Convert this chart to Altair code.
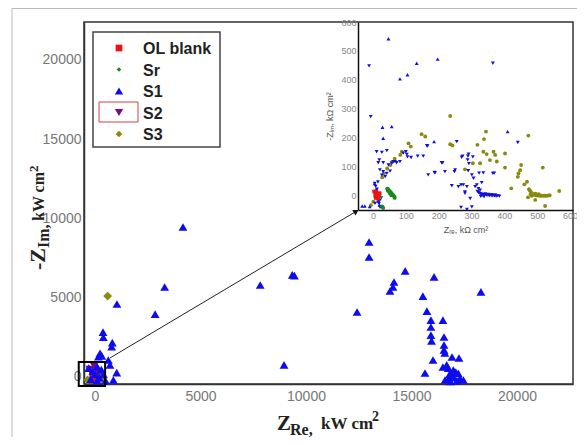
import altair as alt
import pandas as pd

# ---------------- data ----------------
series = ["OL blank", "Sr", "S1", "S2", "S3"]

# main plot (kW cm2)
main_s1 = [(4170, 9430), (3300, 5630), (2850, 3920), (1040, 4560), (7830, 5760), (9350, 6400),
           (9450, 6350), (8960, 700), (12990, 8480), (12990, 7530), (14700, 6650), (16070, 6270),
           (14170, 5950), (14120, 5630), (13980, 5380), (18290, 5320), (12420, 4050), (15540, 5060),
           (15730, 4110), (15920, 3540), (16490, 3540), (15920, 3100), (15920, 2590), (15950, 2220),
           (16540, 2470), (16540, 1960), (16540, 1650), (16580, 1460), (16020, 1010), (16920, 1200),
           (17250, 1140), (15640, 190), (16490, 570), (16670, 700), (16740, 490), (16980, 380),
           (17220, 170), (16900, 60), (17300, -150), (16740, -210), (17460, -250), (16590, -250),
           (16800, 100), (17000, -100), (17100, 250), (16850, -350), (17150, -300),
           (380, 2780), (395, 2450), (820, 2110), (790, 1850), (240, 1440), (160, 1220), (320, 1270),
           (630, 1010), (710, 700), (1030, 210), (870, -250), (-300, 500), (-100, 300), (100, 600),
           (300, 400), (0, 100), (200, -100), (-200, -200), (400, 100), (100, -300), (500, -300)]
main_ol = [(20, -80), (-60, 60)]
main_sr = [(250, 0)]
main_s2 = [(-250, 400), (150, 250), (-50, 650)]
main_s3 = [(600, 5060), (300, -200), (-350, -250)]

# inset (kOhm cm2)
ins_ol = [(8, 10), (10, 5), (12, 0), (14, -5), (9, -10), (15, -12), (11, 8), (7, -3), (16, 3), (4, 12), (20, 6)]
ins_sr = [(43, 22), (46, 20), (48, 17), (50, 14), (53, 11), (55, 8), (57, 5), (59, 2), (61, 0), (63, -3),
          (65, -6), (66, -10), (45, 15), (49, 10), (52, 4), (56, -1), (31, -45), (28, -40), (21, -6)]
ins_s1 = [(47, 542), (133, 457), (197, 471), (105, 417), (82, 403), (57, 237), (29, 235), (31, 197),
          (186, 185), (410, 220), (-33, -38), (-25, -38), (-10, -40), (5, 40), (10, 20), (15, -20),
          (20, -35), (25, -40)]
ins_s2 = [(-12, 448), (-7, 272), (365, 457), (441, 182), (255, 185), (164, 171), (136, 135), (153, 135),
          (105, 132), (100, 150), (209, 112), (248, 81), (187, 78), (168, 70), (219, 81), (273, 135),
          (289, 135), (268, 35), (275, 35), (240, 32), (290, 84), (292, 109), (304, 132), (311, 29),
          (280, 6), (301, 70), (323, 76), (331, 43), (369, 76), (321, 22), (296, -12), (268, -43),
          (286, -50), (301, -41), (316, 35), (326, 17), (336, 77), (365, 75), (286, 29), (280, 11),
          (306, 58), (270, 131), (291, 142), (288, 122), (260, 29), (212, 112), (250, 87), (189, 77),
          (166, 170), (116, 130), (92, 145), (103, 141),
          (11, 150), (27, 148), (42, 154), (19, 122), (31, 112), (62, 116), (72, 112), (82, 116),
          (21, 87), (31, 81), (42, 75), (52, 83), (27, 69), (37, 64), (47, 104), (57, 110), (67, 116),
          (16, 112), (5, 40), (8, 30), (12, 20), (3, 10), (15, 45), (20, -20), (18, -30), (6, -29),
          (21, -41), (25, -10),
          (318, 12), (322, 8), (326, 5), (330, 3), (335, 2), (340, 1), (345, 0), (350, -1), (355, -2),
          (360, -2), (365, -3), (370, -3), (375, -4), (380, -3), (385, -4), (332, -2), (342, 4),
          (352, 2), (362, 1), (372, 0), (328, -5), (338, -6)]
ins_s3 = [(235, 274), (148, 211), (159, 203), (108, 179), (115, 168), (88, 150), (83, 139), (66, 126),
          (58, 115), (53, 104), (43, 92), (33, 75), (28, 61), (242, 172), (235, 176), (304, 110),
          (326, 110), (280, 89), (318, 174), (338, 194), (344, 220), (336, 150), (346, 142), (367, 150),
          (372, 139), (377, 116), (402, 144), (402, 95), (356, 121), (473, 206), (451, 104), (448, 86),
          (443, 75), (441, 63), (469, 46), (461, 37), (421, 23), (517, 95), (567, 14), (494, -17),
          (524, -38), (-6, -35), (1, -23),
          (475, 20), (478, 15), (481, 10), (484, 6), (487, 3), (490, 1), (494, 0), (498, -1), (502, -2),
          (506, -2), (510, -3), (514, -2), (518, -3), (522, -2), (526, -3), (530, -2), (534, -2),
          (538, -1), (483, -3), (480, 3), (472, -8), (495, 5), (505, 3)]

main_ticks = [0, 5000, 10000, 15000, 20000]
inset_ticks = [0, 100, 200, 300, 400, 500, 600]
zoom_box = {"x": -770, "x2": 480, "y": -640, "y2": 880}
arrow = {"x": 720, "y": 1150, "x2": 12380, "y2": 10420}

legend_labels = ["OL blank", "Sr", "S1", "S2", "S3"]
legend_colors = ["#ee1111", "#1a8a1a", "#1010ee", "#7a0a8a", "#8a8a10"]
legend_shapes = ["square", "diamond", "triangle-up", "triangle-down", "diamond"]
legend_sizes = [45, 22, 70, 70, 45]

main_colors = ["#ee1111", "#1a8a1a", "#0c0cee", "#7a0a8a", "#8a8a10"]
main_shapes = ["square", "diamond", "triangle-up", "triangle-down", "diamond"]
inset_colors = ["#ee1111", "#1a8a1a", "#1010dd", "#1010dd", "#8a8a10"]
inset_shapes = ["square", "circle", "triangle-up", "triangle-down", "circle"]


def frame(groups):
    rows = []
    for name, pts in groups:
        for x, y in pts:
            rows.append({"x": x, "y": y, "s": name})
    return pd.DataFrame(rows)


main_df = frame([("OL blank", main_ol), ("Sr", main_sr), ("S2", main_s2), ("S3", main_s3), ("S1", main_s1)])
inset_df = frame([("S3", ins_s3), ("S2", ins_s2), ("S1", ins_s1), ("Sr", ins_sr), ("OL blank", ins_ol)])
one = pd.DataFrame({"k": [0]})

W, H = 489, 362
SANS = "Liberation Sans"
SERIF = "Liberation Serif"

# ---------------- main panel ----------------
mx = alt.X("x:Q", scale=alt.Scale(domain=[-521, 22654], nice=False, zero=False),
           axis=alt.Axis(values=main_ticks, format="d", title=None, ticks=False, grid=False,
                         labelFont=SANS, labelFontSize=14, labelColor="#777", labelPadding=5,
                         domainColor="#333", domainWidth=1.5))
my = alt.Y("y:Q", scale=alt.Scale(domain=[-506, 22405], nice=False, zero=False),
           axis=alt.Axis(values=main_ticks, format="d", title=None, ticks=False, grid=False,
                         labelFont=SANS, labelFontSize=14, labelColor="#777", labelPadding=3,
                         domainColor="#333", domainWidth=1.5))

main_pts = alt.Chart(main_df).mark_point(filled=True, size=78, opacity=1).encode(
    x=mx, y=my,
    color=alt.Color("s:N", scale=alt.Scale(domain=series, range=main_colors), legend=None),
    shape=alt.Shape("s:N", scale=alt.Scale(domain=series, range=main_shapes), legend=None),
)
box = alt.Chart(pd.DataFrame([zoom_box])).mark_rect(fill=None, stroke="#000", strokeWidth=2).encode(
    x="x:Q", x2="x2", y="y:Q", y2="y2")
arr_line = alt.Chart(pd.DataFrame([arrow])).mark_rule(color="#222", strokeWidth=1).encode(
    x="x:Q", x2="x2", y="y:Q", y2="y2")
arr_head = alt.Chart(pd.DataFrame([arrow])).mark_point(
    shape="triangle-up", filled=True, color="#111", size=40, angle=59, opacity=1).encode(
    x="x2:Q", y="y2:Q")
main_layer = alt.layer(main_pts, box, arr_line, arr_head)

# ---------------- inset panel ----------------
ix = alt.X("x:Q", scale=alt.Scale(domain=[-45.7, 609], range=[274, 489], nice=False, zero=False),
           axis=alt.Axis(orient="bottom", offset=-(H - 188), values=inset_ticks, ticks=False, grid=False,
                         labelFont=SANS, labelFontSize=9, labelColor="#888", labelPadding=1,
                         domainColor="#111", domainWidth=1.5,
                         title="Zᵣₑ, kΩ cm²", titleFont=SANS, titleFontSize=9, titleFontWeight="normal",
                         titleColor="#555", titlePadding=5))
iy = alt.Y("y:Q", scale=alt.Scale(domain=[-52, 600], range=[188, 0], nice=False, zero=False),
           axis=alt.Axis(orient="left", offset=-274, values=inset_ticks, ticks=False, grid=False,
                         labelFont=SANS, labelFontSize=9, labelColor="#888", labelPadding=2,
                         domainColor="#111", domainWidth=1.5,
                         title="-Zᵢₘ, kΩ cm²", titleFont=SANS, titleFontSize=9, titleFontWeight="normal",
                         titleColor="#555", titlePadding=6))
inset_layer = alt.Chart(inset_df).mark_point(filled=True, size=15, opacity=1).encode(
    x=ix, y=iy,
    color=alt.Color("s:N", scale=alt.Scale(domain=series, range=inset_colors), legend=None),
    shape=alt.Shape("s:N", scale=alt.Scale(domain=series, range=inset_shapes), legend=None),
)

# ---------------- legend (manual) ----------------
deco = []
deco.append(alt.Chart(one).mark_rect(fill="white", stroke="#444", strokeWidth=1.5).encode(
    x=alt.value(9), x2=alt.value(136), y=alt.value(10), y2=alt.value(125)))
for i, (lab, col, shp, sz) in enumerate(zip(legend_labels, legend_colors, legend_shapes, legend_sizes)):
    yy = 26 + i * 21.5
    deco.append(alt.Chart(one).mark_point(shape=shp, filled=True, color=col, size=sz, opacity=1).encode(
        x=alt.value(35), y=alt.value(yy)))
    deco.append(alt.Chart(one).mark_text(align="left", baseline="middle", font=SANS, fontSize=16,
                                         fontWeight="bold", color="#222").encode(
        x=alt.value(59), y=alt.value(yy + 1), text=alt.value(lab)))
deco.append(alt.Chart(one).mark_rect(fill=None, stroke="#d04040", strokeWidth=1).encode(
    x=alt.value(15), x2=alt.value(54), y=alt.value(80), y2=alt.value(100)))

# ---------------- axis titles (main) ----------------
def txt(s, x, y, size, angle=0):
    return alt.Chart(one).mark_text(align="left", baseline="alphabetic", font=SERIF, fontSize=size,
                                    fontWeight="bold", color="#222", angle=angle).encode(
        x=alt.value(x), y=alt.value(y), text=alt.value(s))

ox, oy = 84, 22
deco += [
    txt("Z", 277 - ox, 430 - oy, 21),
    txt("Re,", 290 - ox, 434.5 - oy, 16),
    txt("kW cm", 321 - ox, 429 - oy, 17),
    txt("2", 372 - ox, 421 - oy, 14),
    txt("-Z", 45 - ox, 270 - oy, 22, 270),
    txt("Im,", 49 - ox, 248 - oy, 16, 270),
    txt("kW cm", 44 - ox, 221 - oy, 16, 270),
    txt("2", 38 - ox, 172 - oy, 13, 270),
]
# page frame lines
deco.append(alt.Chart(one).mark_rule(color="#bbb", strokeWidth=1).encode(
    x=alt.value(12 - ox), y=alt.value(8 - oy), y2=alt.value(445)))
deco.append(alt.Chart(one).mark_rule(color="#bbb", strokeWidth=1).encode(
    x=alt.value(12 - ox), x2=alt.value(493), y=alt.value(8.5 - oy)))

chart = alt.layer(main_layer, inset_layer, *deco).resolve_scale(
    x="independent", y="independent", color="independent", shape="independent"
).properties(
    width=W, height=H,
    autosize=alt.AutoSizeParams(type="none"),
    padding={"left": 76, "top": 14, "right": 4, "bottom": 53},
).configure_view(stroke="#333", strokeWidth=1.5)

chart.save("out.html", embed_options={"renderer": "svg", "actions": False})
